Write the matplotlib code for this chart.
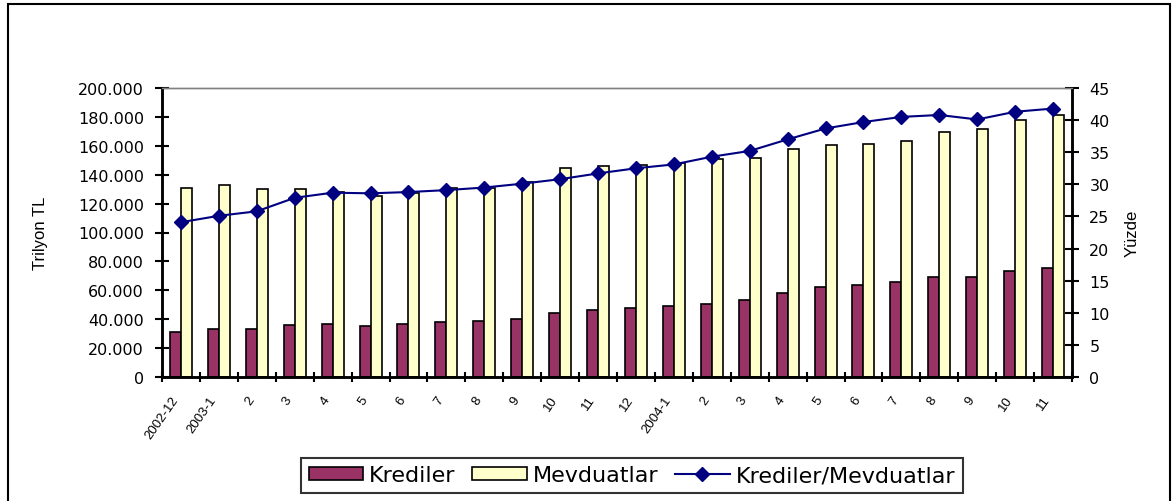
import numpy as np
import matplotlib
matplotlib.use("Agg")
import matplotlib.pyplot as plt
import matplotlib.transforms as mtrans
from matplotlib.patches import Rectangle
from matplotlib.ticker import FuncFormatter, MultipleLocator


donemler = ["2002-12", "2003-1", "2", "3", "4", "5", "6", "7", "8", "9", "10", "11", "12",
            "2004-1", "2", "3", "4", "5", "6", "7", "8", "9", "10", "11"]

# trilyon TL
krediler = [31400, 33000, 33200, 36000, 36500, 35600, 36500, 37800, 38500, 40400, 44100, 46300,
            47700, 49100, 50800, 53100, 58400, 62100, 63900, 66000, 69000, 69000, 73100, 75400]
mevduatlar = [130600, 132700, 129900, 130400, 128000, 125500, 127600, 130800, 130700, 135000, 144900, 146000,
              147000, 148400, 151100, 151300, 157800, 160500, 161000, 163100, 169800, 171900, 177600, 181100]

# yuzde
oran = [24.1, 25.1, 25.8, 27.9, 28.7, 28.6, 28.8, 29.1, 29.5, 30.1, 30.8, 31.7,
        32.5, 33.1, 34.3, 35.2, 37.0, 38.7, 39.7, 40.5, 40.8, 40.1, 41.3, 41.8]

KREDI_RENK = "#993366"
MEVDUAT_RENK = "#FFFFCC"
ORAN_RENK = "#000080"


def binlik(v, pos):
    if v == 0:
        return "0"
    return f"{int(v):,}".replace(",", ".")


def main():
    plt.rcParams["font.family"] = "DejaVu Sans"
    fig = plt.figure(figsize=(11.74, 5.02), dpi=100)
    ax = fig.add_axes([162 / 1174, 1 - 378 / 502, 910 / 1174, 289 / 502])
    ax2 = ax.twinx()

    n = len(donemler)
    x = np.arange(n)
    w = 0.29

    b1 = ax.bar(x - w / 2, krediler, w, color=KREDI_RENK, edgecolor="black", linewidth=1.2, label="Krediler")
    b2 = ax.bar(x + w / 2, mevduatlar, w, color=MEVDUAT_RENK, edgecolor="black", linewidth=1.2, label="Mevduatlar")
    l1, = ax2.plot(x, oran, color=ORAN_RENK, linewidth=1.5, marker="D", markersize=7,
                   label="Krediler/Mevduatlar")

    ax.set_xlim(-0.5, n - 0.5)
    ax.set_ylim(0, 200000)
    ax2.set_ylim(0, 45)
    ax.yaxis.set_major_locator(MultipleLocator(20000))
    ax.yaxis.set_major_formatter(FuncFormatter(binlik))
    ax2.yaxis.set_major_locator(MultipleLocator(5))

    # tikovi na granicama, labele na sredini
    ax.set_xticks(np.arange(n + 1) - 0.5)
    ax.set_xticklabels([])
    ax.set_xticks(x, minor=True)
    ax.set_xticklabels(donemler, minor=True, rotation=55, ha="right", va="top",
                       rotation_mode="anchor", fontsize=9.5, family="Liberation Sans")
    ax.tick_params(axis="x", which="major", direction="inout", length=7, width=1.5)
    ax.tick_params(axis="x", which="minor", length=0, pad=12)
    pomak = mtrans.ScaledTranslation(-10 / 100, 0, fig.dpi_scale_trans)
    for t in ax.get_xticklabels(minor=True):
        t.set_transform(t.get_transform() + pomak)

    ax.tick_params(axis="y", direction="inout", length=10, width=1.5, labelsize=11.5, pad=8)
    ax2.tick_params(axis="y", direction="inout", length=10, width=1.5, labelsize=11.5, pad=7.5)

    for a in (ax, ax2):
        a.spines["top"].set_color("#808080")
        a.spines["top"].set_linewidth(1)
        a.spines["left"].set_linewidth(1.8)
        a.spines["right"].set_linewidth(1.8)
        a.spines["bottom"].set_linewidth(1.8)

    fig.text(40 / 1174, 1 - 233 / 502, "Trilyon TL", rotation=90, ha="center", va="center",
             fontsize=12, family="Liberation Sans")
    fig.text(1132 / 1174, 1 - 233 / 502, "Yüzde", rotation=90, ha="center", va="center",
             fontsize=12, family="Liberation Sans")

    leg = fig.legend([b1, b2, l1], ["Krediler", "Mevduatlar", "Krediler/Mevduatlar"],
                     loc="center", bbox_to_anchor=(632 / 1174, 1 - 476.5 / 502), ncol=3,
                     fontsize=16, frameon=True, fancybox=False, handlelength=2.45, handleheight=0.55,
                     handletextpad=0.27, columnspacing=0.75, borderpad=0.35, borderaxespad=0)
    leg.get_frame().set_edgecolor("black")
    leg.get_frame().set_linewidth(1.5)

    # okvir oko cele slike
    okvir = Rectangle((7.5 / 1174, -0.1), (1170 - 7.5) / 1174, 1.1 - 4.5 / 502, transform=fig.transFigure,
                      fill=False, edgecolor="black", linewidth=1.5, clip_on=False)
    fig.patches.append(okvir)

    fig.savefig("out.png", dpi=100)


if __name__ == "__main__":
    main()
